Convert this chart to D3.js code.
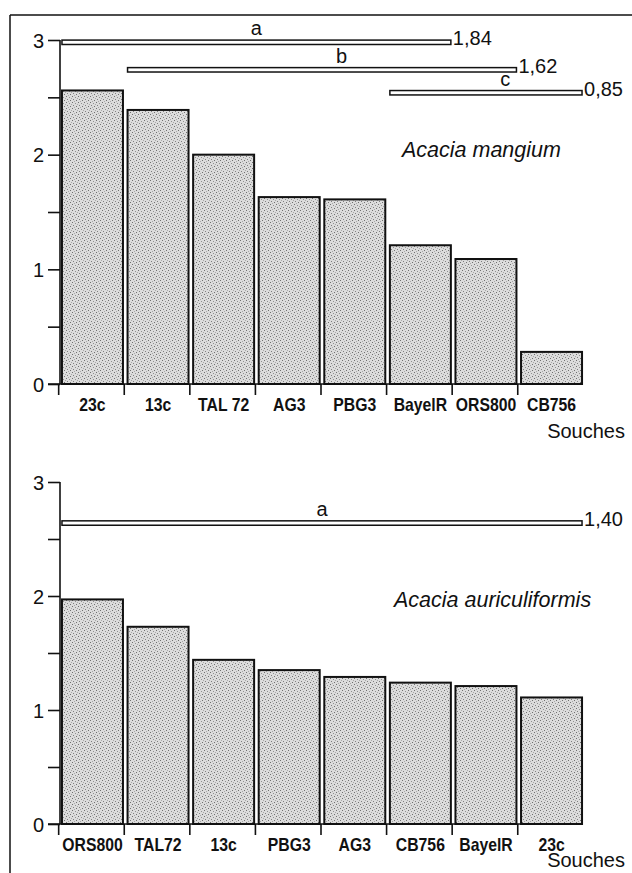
<!DOCTYPE html>
<html>
<head>
<meta charset="utf-8">
<script src="https://cdn.jsdelivr.net/npm/d3@7"></script>
<style>
  body { margin: 0; background: #fff; }
  svg { display: block; }
  text { font-family: "Liberation Sans", Arial, sans-serif; fill: #111; }
  .cat { font-weight: bold; font-size: 19px; }
</style>
</head>
<body>
<svg id="chart" width="632" height="873"></svg>
<script>
// y axis
var yTicks = [0, 1, 2, 3];
var yMinor = [0, 0.5, 1, 1.5, 2, 2.5, 3];

// Acacia mangium
var strainsTop = ["23c", "13c", "TAL 72", "AG3", "PBG3", "BayelR", "ORS800", "CB756"];
var valuesTop = [2.56, 2.39, 2.00, 1.63, 1.61, 1.21, 1.09, 0.28];
// groups: first / last strain index, height of the bar, letter, mean
var groupFromTop = [0, 1, 5];
var groupToTop = [5, 6, 7];
var groupLevelTop = [2.98, 2.74, 2.54];
var groupLetterTop = ["a", "b", "c"];
var groupMeanTop = ["1,84", "1,62", "0,85"];
var letterPosTop = [0.5, 0.55, 0.6];

// Acacia auriculiformis
var strainsBottom = ["ORS800", "TAL72", "13c", "PBG3", "AG3", "CB756", "BayelR", "23c"];
var valuesBottom = [1.97, 1.73, 1.44, 1.35, 1.29, 1.24, 1.21, 1.11];
var groupFromBottom = [0];
var groupToBottom = [7];
var groupLevelBottom = [2.64];
var groupLetterBottom = ["a"];
var groupMeanBottom = ["1,40"];
var letterPosBottom = [0.5];

var svg = d3.select("#chart");

// stippled grey fill like the scan
var defs = svg.append("defs");
var pat = defs.append("pattern")
  .attr("id", "stip")
  .attr("patternUnits", "userSpaceOnUse")
  .attr("width", 6).attr("height", 6);
pat.append("rect").attr("width", 6).attr("height", 6).attr("fill", "#dcdcdc");
[[0, 0, "#707070"], [3, 1, "#909090"], [1, 3, "#808080"], [4, 4, "#707070"], [2, 5, "#a8a8a8"], [5, 2, "#a8a8a8"]].forEach(function(p) {
  pat.append("rect").attr("x", p[0]).attr("y", p[1]).attr("width", 1).attr("height", 1).attr("fill", p[2]);
});

// frame of the figure
svg.append("line").attr("x1", 10).attr("x2", 632).attr("y1", 15).attr("y2", 15)
  .attr("stroke", "#111").attr("stroke-width", 1.5);
svg.append("line").attr("x1", 10).attr("x2", 10).attr("y1", 15).attr("y2", 873)
  .attr("stroke", "#111").attr("stroke-width", 1.5);

function panel(opts) {
  var g = svg.append("g");

  var x = d3.scaleBand()
    .domain(opts.strains)
    .range([60, 584])
    .paddingInner(0.07)
    .paddingOuter(0.03);

  var y = d3.scaleLinear().domain([0, 3]).range([opts.y0, opts.y3]);

  // bars
  g.selectAll("rect.bar")
    .data(opts.values)
    .enter()
    .append("rect")
    .attr("class", "bar")
    .attr("x", function(d, i) { return x(opts.strains[i]); })
    .attr("width", x.bandwidth())
    .attr("y", function(d) { return y(d); })
    .attr("height", function(d) { return y(0) - y(d); })
    .attr("fill", "url(#stip)")
    .attr("stroke", "#111")
    .attr("stroke-width", 2);

  // y axis
  var yAxis = d3.axisLeft(y).tickValues(yMinor).tickSize(12).tickFormat(function(d) {
    return yTicks.indexOf(d) >= 0 ? d : "";
  });
  var ya = g.append("g").attr("transform", "translate(60,0)").call(yAxis);
  ya.select(".domain").attr("d", "M0," + y(3) + "V" + y(0)).attr("stroke", "#111").attr("stroke-width", 1.6);
  ya.selectAll(".tick line").attr("stroke", "#111").attr("stroke-width", 1.6);
  ya.selectAll(".tick text").attr("font-size", 20).attr("font-family", "Liberation Sans, Arial, sans-serif")
    .attr("fill", "#111").attr("x", -16).attr("dy", "0.36em");

  // x axis: baseline with ticks at the left of each slot
  g.append("line")
    .attr("x1", 48).attr("x2", x(opts.strains[opts.strains.length - 1]) + x.bandwidth())
    .attr("y1", y(0)).attr("y2", y(0))
    .attr("stroke", "#111").attr("stroke-width", 1.6);
  g.selectAll("line.xt")
    .data(opts.strains)
    .enter()
    .append("line")
    .attr("class", "xt")
    .attr("x1", function(d) { return x(d) - x.step() * x.paddingInner() / 2 - 1; })
    .attr("x2", function(d) { return x(d) - x.step() * x.paddingInner() / 2 - 1; })
    .attr("y1", y(0)).attr("y2", y(0) + 11)
    .attr("stroke", "#111").attr("stroke-width", 1.6);

  // narrow bold labels (squeezed horizontally)
  g.selectAll("text.cat")
    .data(opts.strains)
    .enter()
    .append("text")
    .attr("class", "cat")
    .attr("transform", function(d) {
      return "translate(" + (x(d) + x.bandwidth() / 2) + "," + (y(0) + 27) + ") scale(0.83,1)";
    })
    .attr("text-anchor", "middle")
    .text(function(d) { return d; });

  g.append("text")
    .attr("x", 625).attr("y", opts.souchesY)
    .attr("text-anchor", "end")
    .attr("font-size", 20)
    .text("Souches");

  g.append("text")
    .attr("x", opts.speciesX).attr("y", opts.speciesY)
    .attr("font-size", 21.5)
    .attr("font-style", "italic")
    .text(opts.species);

  // homogeneous groups
  opts.from.forEach(function(f, i) {
    var x1 = x(opts.strains[f]);
    var x2 = x(opts.strains[opts.to[i]]) + x.bandwidth();
    var yc = y(opts.level[i]);
    g.append("rect")
      .attr("x", x1).attr("y", yc - 2.2)
      .attr("width", x2 - x1).attr("height", 4.4)
      .attr("fill", "#fff").attr("stroke", "#111").attr("stroke-width", 1.5);
    g.append("text")
      .attr("x", x1 + (x2 - x1) * opts.letterPos[i])
      .attr("y", yc - 7)
      .attr("text-anchor", "middle")
      .attr("font-size", 20)
      .text(opts.letter[i]);
    g.append("text")
      .attr("x", x2 + 2)
      .attr("y", yc + 3)
      .attr("font-size", 20)
      .text(opts.mean[i]);
  });
}

panel({
  strains: strainsTop, values: valuesTop,
  y0: 384, y3: 40,
  from: groupFromTop, to: groupToTop, level: groupLevelTop,
  letter: groupLetterTop, mean: groupMeanTop, letterPos: letterPosTop,
  species: "Acacia mangium", speciesX: 402, speciesY: 157,
  souchesY: 438
});

panel({
  strains: strainsBottom, values: valuesBottom,
  y0: 824, y3: 482,
  from: groupFromBottom, to: groupToBottom, level: groupLevelBottom,
  letter: groupLetterBottom, mean: groupMeanBottom, letterPos: letterPosBottom,
  species: "Acacia auriculiformis", speciesX: 394, speciesY: 607,
  souchesY: 867
});
</script>
</body>
</html>
